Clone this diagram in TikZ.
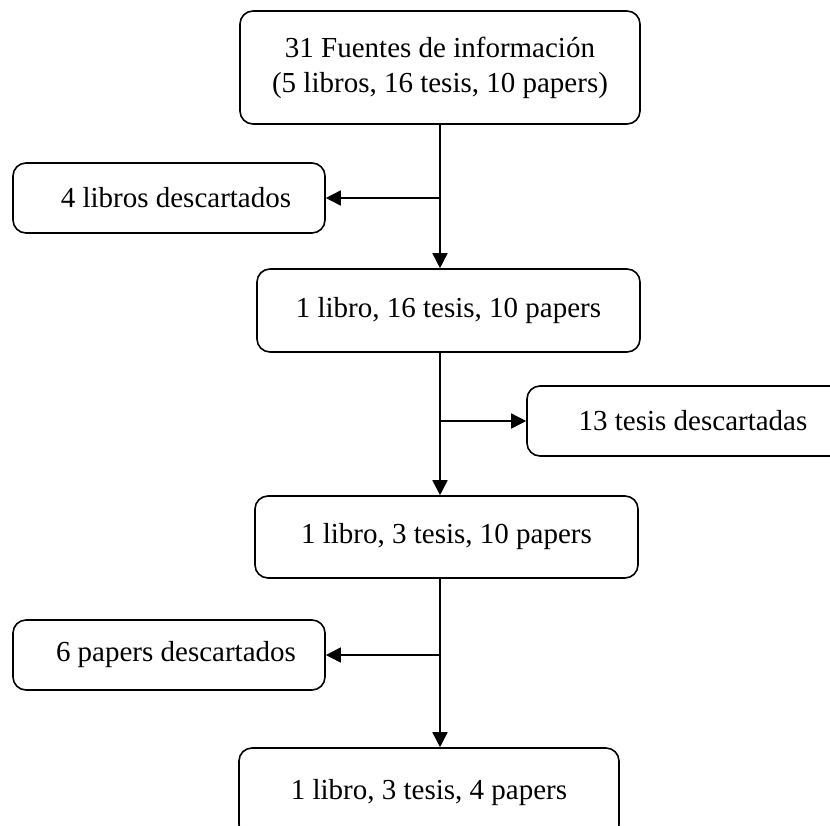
\documentclass[tikz,border=0pt]{standalone}
\usepackage{fontspec}
\setmainfont{Liberation Serif}
\usetikzlibrary{arrows.meta}
\begin{document}
\begin{tikzpicture}[x=1pt,y=-1pt,
  box/.style={draw=black, line width=1.6pt, rounded corners=13pt, fill=white,
    inner sep=0pt, align=center, font=\fontsize{29}{35}\selectfont},
  arr/.style={line width=1.6pt, -{Triangle[length=15pt,width=15pt]}},
  ln/.style={line width=1.6pt}]
\useasboundingbox (0,0) rectangle (830,825);
\clip (0,0) rectangle (830,825);
\node[box, minimum width=400pt, minimum height=113pt] (b1) at (440,67.5)
  {31 Fuentes de información\\(5 libros, 16 tesis, 10 papers)};
\node[box, minimum width=312pt, minimum height=70pt] (b2) at (169,198)
  {\hspace*{14pt}4 libros descartados};
\node[box, minimum width=383pt, minimum height=83pt] (b3) at (448.5,310.5)
  {1 libro, 16 tesis, 10 papers};
\node[box, minimum width=332pt, minimum height=70pt] (b4) at (693,421)
  {13 tesis descartadas};
\node[box, minimum width=383pt, minimum height=82pt] (b5) at (446.5,537)
  {1 libro, 3 tesis, 10 papers};
\node[box, minimum width=312pt, minimum height=70pt] (b6) at (169,655)
  {\hspace*{14pt}6 papers descartados};
\node[box, minimum width=380pt, minimum height=90pt] (b7) at (429,793)
  {1 libro, 3 tesis, 4 papers};
% trunk 1
\coordinate (j1) at (b1.south |- b2.east);
\draw[arr] (b1.south) -- (b1.south |- b3.north);
\draw[arr] (j1) -- (b2.east);
% trunk 2
\coordinate (t2) at (b1.south |- b3.south);
\coordinate (j2) at (b1.south |- b4.west);
\draw[arr] (t2) -- (b1.south |- b5.north);
\draw[arr] (j2) -- (b4.west);
% trunk 3
\coordinate (t3) at (b1.south |- b5.south);
\coordinate (j3) at (b1.south |- b6.east);
\draw[arr] (t3) -- (b1.south |- b7.north);
\draw[arr] (j3) -- (b6.east);
\end{tikzpicture}
\end{document}
